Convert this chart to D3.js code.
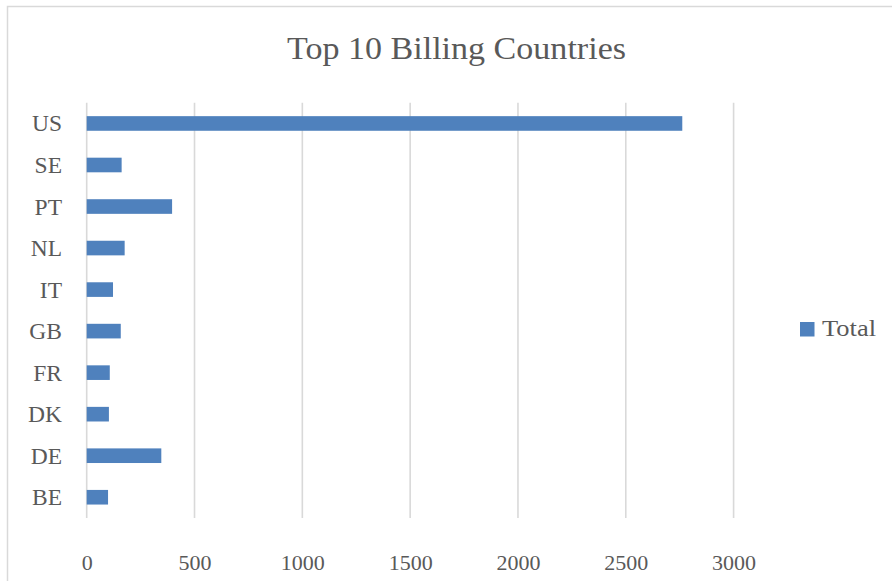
<!DOCTYPE html>
<html>
<head>
<meta charset="utf-8">
<script src="https://cdn.jsdelivr.net/npm/d3@7"></script>
<style>
  html, body { margin: 0; padding: 0; background: #ffffff; }
  svg { display: block; }
</style>
</head>
<body>
<svg id="chart" width="893" height="581"></svg>
<script>
// Billing totals per country (top 10)
const countries = ["US", "SE", "PT", "NL", "IT", "GB", "FR", "DK", "DE", "BE"];
const totals = [2762, 162, 396, 176, 122, 158, 107, 103, 346, 99];
const xTicks = [0, 500, 1000, 1500, 2000, 2500, 3000];
const seriesName = "Total";
const titleText = "Top 10 Billing Countries";

const data = countries.map((c, i) => ({ country: c, total: totals[i] }));

const W = 893, H = 581;
const plot = { left: 86.7, right: 733.6, top: 102.7, bottom: 518 };
const textColor = "#595959";
const gridColor = "#d9d9d9";
const barColor = "#4f81bd";
const font = "'Liberation Serif', 'Times New Roman', serif";

const svg = d3.select("#chart");

// chart-area frame (left and top edges)
svg.append("path")
  .attr("d", `M7.5,${H} L7.5,6.5 L${W - 1},6.5`)
  .attr("fill", "none")
  .attr("stroke", gridColor)
  .attr("stroke-width", 1.5);

const x = d3.scaleLinear().domain([0, 3000]).range([plot.left, plot.right]);
const y = d3.scaleBand().domain(countries).range([plot.top, plot.bottom]).paddingInner(0.648).paddingOuter(0.324);

// vertical gridlines
svg.append("g")
  .selectAll("line")
  .data(xTicks)
  .join("line")
  .attr("x1", d => x(d)).attr("x2", d => x(d))
  .attr("y1", plot.top).attr("y2", plot.bottom)
  .attr("stroke", gridColor)
  .attr("stroke-width", 1.6);

// bars
svg.append("g")
  .selectAll("rect")
  .data(data)
  .join("rect")
  .attr("x", x(0))
  .attr("y", d => y(d.country))
  .attr("width", d => x(d.total) - x(0))
  .attr("height", y.bandwidth())
  .attr("fill", barColor);

// x axis labels
const xAxis = d3.axisBottom(x).tickValues(xTicks).tickSize(0).tickPadding(0).tickFormat(d3.format("d"));
const gx = svg.append("g")
  .attr("transform", `translate(0, 554)`)
  .call(xAxis);
gx.select(".domain").remove();
gx.selectAll("text")
  .attr("dy", "0.71em")
  .attr("fill", textColor)
  .style("font-family", font)
  .style("font-size", "22px");

// y axis labels
const yAxis = d3.axisLeft(y).tickSize(0).tickPadding(0);
const gy = svg.append("g")
  .attr("transform", `translate(62, 0)`)
  .call(yAxis);
gy.select(".domain").remove();
gy.selectAll("text")
  .attr("dy", "0.34em")
  .attr("fill", textColor)
  .style("font-family", font)
  .style("font-size", "23.5px");

// title
svg.append("text")
  .attr("x", 456.5)
  .attr("y", 58.5)
  .attr("text-anchor", "middle")
  .attr("fill", textColor)
  .attr("textLength", 339)
  .attr("lengthAdjust", "spacingAndGlyphs")
  .style("font-family", font)
  .style("font-size", "31px")
  .text(titleText);

// legend
const legend = svg.append("g").attr("transform", "translate(800, 322)");
legend.append("rect")
  .attr("width", 14.5).attr("height", 14.5)
  .attr("fill", barColor);
legend.append("text")
  .attr("x", 22)
  .attr("y", 14)
  .attr("fill", textColor)
  .attr("textLength", 54)
  .attr("lengthAdjust", "spacingAndGlyphs")
  .style("font-family", font)
  .style("font-size", "23.5px")
  .text(seriesName);
</script>
</body>
</html>
